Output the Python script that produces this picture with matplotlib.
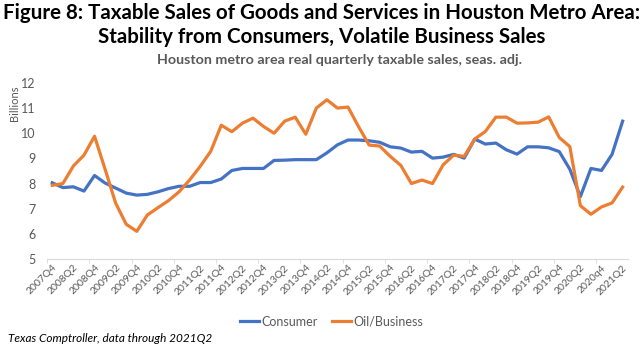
import matplotlib
matplotlib.use("Agg")
import matplotlib.pyplot as plt
import numpy as np

plt.rcParams['font.family'] = ['Lato', 'DejaVu Sans']

# quarterly labels 2007Q4 .. 2021Q2
quarters = ['2007Q4'] + [f'{y}Q{q}' for y in range(2008, 2021) for q in range(1, 5)] + ['2021Q1', '2021Q2']
tick_labels = quarters[::2]
tick_labels = [t if t != '2020Q4' else '2020q4' for t in tick_labels]

consumer = [8.03, 7.84, 7.87, 7.70, 8.32, 8.02, 7.82, 7.62, 7.54, 7.57,
            7.67, 7.80, 7.89, 7.89, 8.04, 8.04, 8.18, 8.52, 8.60, 8.60,
            8.60, 8.92, 8.93, 8.95, 8.95, 8.95, 9.22, 9.54, 9.73, 9.73,
            9.70, 9.64, 9.46, 9.41, 9.25, 9.28, 9.01, 9.05, 9.16, 9.01,
            9.77, 9.57, 9.61, 9.34, 9.17, 9.46, 9.46, 9.42, 9.27, 8.57,
            7.48, 8.60, 8.52, 9.16, 10.48]

business = [7.93, 8.00, 8.70, 9.13, 9.88, 8.57, 7.22, 6.38, 6.10, 6.75,
            7.04, 7.32, 7.67, 8.14, 8.68, 9.28, 10.32, 10.06, 10.40, 10.60,
            10.27, 10.00, 10.48, 10.64, 9.96, 11.00, 11.33, 11.00, 11.04, 10.26,
            9.53, 9.49, 9.08, 8.72, 8.00, 8.14, 8.00, 8.74, 9.13, 9.08,
            9.77, 10.07, 10.64, 10.64, 10.40, 10.41, 10.44, 10.65, 9.83, 9.47,
            7.12, 6.78, 7.07, 7.23, 7.86]

x = np.arange(len(quarters))

fig = plt.figure(figsize=(6.44, 3.47), dpi=100)
ax = fig.add_axes([0.073, 0.2536, 0.902, 0.5074])

ax.plot(x, consumer, color='#4472C4', lw=2.3, label='Consumer', solid_joinstyle='round')
ax.plot(x, business, color='#ED7D31', lw=2.3, label='Oil/Business', solid_joinstyle='round')

ax.set_xlim(-0.5, len(quarters) - 0.5)
ax.set_ylim(5, 12)
ax.set_yticks(range(5, 13))

ax.set_xticks(x[::2])
ax.set_xticklabels(tick_labels, rotation=45, ha='right', va='top', rotation_mode='anchor',
                   fontsize=7.5, color='#595959')
ax.set_xticks(np.arange(-0.5, len(quarters), 4), minor=True)
ax.tick_params(axis='x', which='major', length=0, pad=3)
ax.tick_params(axis='x', which='minor', length=3, color='#d9d9d9')
ax.tick_params(axis='y', length=0, labelsize=9, labelcolor='#595959', pad=8)

for s in ['top', 'right', 'left']:
    ax.spines[s].set_visible(False)
ax.spines['bottom'].set_color('#d9d9d9')

fig.text(0.023, 0.755, 'Billions', rotation=90, ha='center', va='top', fontsize=8, color='#595959')

fig.text(0.5, 0.963, 'Figure 8: Taxable Sales of Goods and Services in Houston Metro Area:',
         ha='center', va='center', fontsize=14.8, fontweight='bold')
fig.text(0.5, 0.893, 'Stability from Consumers, Volatile Business Sales',
         ha='center', va='center', fontsize=14.8, fontweight='bold')
fig.text(0.527, 0.826, 'Houston metro area real quarterly taxable sales, seas. adj.',
         ha='center', va='center', fontsize=10.3, fontweight='bold', color='#595959')

fig.legend(loc='center', bbox_to_anchor=(0.515, 0.073), ncol=2, frameon=False,
           fontsize=9, handlelength=1.5, handletextpad=0.2, columnspacing=1.2,
           labelcolor='#595959')

fig.text(0.012, 0.025, 'Texas Comptroller, data through 2021Q2', ha='left', va='center',
         fontsize=8.5, style='italic')

fig.savefig('out.png', dpi=100)
